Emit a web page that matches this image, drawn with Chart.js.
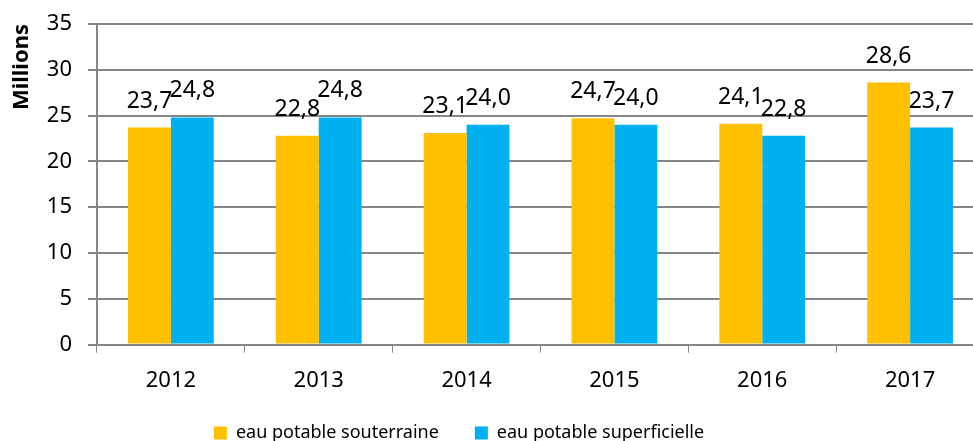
<!DOCTYPE html>
<html>
<head>
<meta charset="utf-8">
<script src="https://cdn.jsdelivr.net/npm/chart.js@4"></script>
<style>
  html, body { margin: 0; padding: 0; background: #fff; overflow: hidden; }
  /* plot area runs a little past the right edge of the window, as in the source */
  #wrap { width: 984px; height: 441px; }
</style>
</head>
<body>
<div id="wrap"><canvas id="chart"></canvas></div>
<script>
// Eau potable produite, en millions de m3
const years         = ["2012", "2013", "2014", "2015", "2016", "2017"];
const souterraine   = [23.7, 22.8, 23.1, 24.7, 24.1, 28.6];
const superficielle = [24.8, 24.8, 24.0, 24.0, 22.8, 23.7];
const seriesNames   = ["eau potable souterraine", "eau potable superficielle"];

const FONT = "'Noto Sans', 'Open Sans', sans-serif";

// Draws the value above each bar (French decimal comma)
const valueLabels = {
  id: "valueLabels",
  afterDatasetsDraw(chart) {
    const ctx = chart.ctx;
    ctx.save();
    ctx.font = `23px ${FONT}`;
    ctx.fillStyle = "#000";
    ctx.textAlign = "center";
    ctx.textBaseline = "alphabetic";
    chart.data.datasets.forEach((ds, i) => {
      chart.getDatasetMeta(i).data.forEach((bar, j) => {
        const txt = ds.data[j].toFixed(1).replace(".", ",");
        ctx.fillText(txt, bar.x, bar.y - 20);
      });
    });
    ctx.restore();
  },
};

// Excel placed the legend a bit left of centre and close to the bottom;
// labels.padding stays wide for the gap between the two items
const legendShift = {
  id: "legendShift",
  afterLayout(chart) {
    const lg = chart.legend;
    lg.left -= 33;
    lg.right -= 33;
    lg.top -= 21;
    lg.bottom -= 21;
  },
};

new Chart(document.getElementById("chart"), {
  type: "bar",
  data: {
    labels: years,
    datasets: [
      { label: seriesNames[0], data: souterraine,   backgroundColor: "#FFC000" },
      { label: seriesNames[1], data: superficielle, backgroundColor: "#00B0F0" },
    ],
  },
  options: {
    responsive: true,
    maintainAspectRatio: false,
    animation: false,
    datasets: { bar: { categoryPercentage: 0.58, barPercentage: 1.0 } },
    layout: { padding: { top: 24, left: 0, right: 0, bottom: -32 } },
    plugins: {
      legend: {
        position: "bottom",
        labels: {
          boxWidth: 13,
          boxHeight: 13,
          padding: 36,
          color: "#000",
          font: { family: FONT, size: 18 },
        },
      },
      tooltip: { enabled: false },
    },
    scales: {
      x: {
        grid: { drawOnChartArea: false, drawTicks: true, tickLength: 8, color: "#868686", offset: true },
        border: { color: "#868686", width: 2 },
        ticks: { color: "#000", font: { family: FONT, size: 22 }, padding: 15 },
      },
      y: {
        min: 0,
        max: 35,
        ticks: { stepSize: 5, color: "#000", font: { family: FONT, size: 22 }, padding: 16 },
        grid: { color: "#868686", lineWidth: 2, tickLength: 9 },
        border: { color: "#868686", width: 2 },
        title: {
          display: true,
          text: "Millions",
          align: "end",
          color: "#000",
          font: { family: FONT, size: 22, weight: "bold" },
          padding: { top: 9, bottom: 0 },
        },
        afterFit(scale) {
          scale.width = 97;
          scale.paddingTop = 0;
        },
      },
    },
  },
  plugins: [valueLabels, legendShift],
});
</script>
</body>
</html>
